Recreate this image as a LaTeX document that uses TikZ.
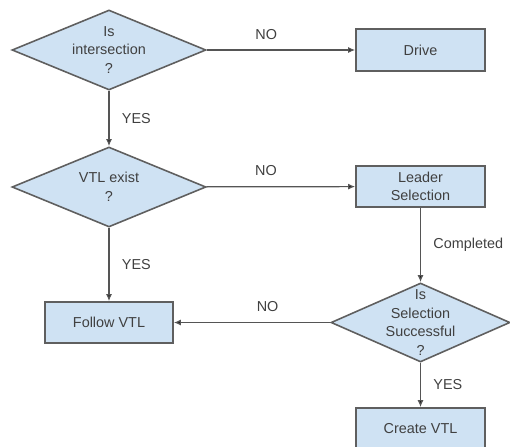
\documentclass[tikz,border=0pt]{standalone}
\usepackage{fontspec}
\setmainfont{Liberation Sans}
\usepackage{tikz}
\usetikzlibrary{positioning}
\usetikzlibrary{shapes,arrows.meta}
\definecolor{boxfill}{HTML}{CFE2F3}
\definecolor{boxline}{HTML}{5F5F5F}
\definecolor{flowline}{HTML}{555555}
\definecolor{txt}{HTML}{404040}
\tikzset{
	every node/.style = {font=\fontsize{8.2}{10.6}\selectfont, text=txt},
	process/.style = {rectangle, draw=boxline, fill=boxfill, line width=0.9pt,
	 minimum width=2.58cm, minimum height=0.83cm, align=center, inner sep=0pt},
	decision/.style = {diamond, draw=boxline, fill=boxfill, line width=0.9pt,
	 minimum width=3.88cm, minimum height=1.6cm, inner sep=0pt},
	flow/.style = {draw=flowline, line width=0.7pt},
	el/.style = {inner sep=2pt},
}

\begin{document}
\begin{tikzpicture}[->,>={Latex[length=4pt,width=3.4pt]}]
	\useasboundingbox (0,0) rectangle (10.2,-8.92);
               \node at(2.18,-1.0) (Intersection) [decision, label={[align=center]center:{Is\\intersection\\?}}] {};
               \node at(8.41,-1.0) (Drive) [process] {Drive};
               \node at(2.18,-3.74) (VTLExist) [decision, label={[align=center]center:{VTL exist\\?}}] {};
               \node at(8.41,-3.73) (Leader) [process] {Leader\\Selection};
               \node at(2.18,-6.45) (FollowVTL) [process, minimum width=2.56cm, minimum height=0.82cm] {Follow VTL};
               \node at(8.41,-6.45) (Success) [decision, minimum width=3.58cm, minimum height=1.58cm, label={[align=center]center:{Is\\Selection\\Successful\\?}}] {};
               \node at(8.41,-8.57) (CreateVTL) [process, minimum height=0.82cm] {Create VTL};
                \path[flow] (Intersection) edge node[el, above=3.7pt, pos=0.4] {NO} (Drive);
                \path[flow] (Intersection) edge node[el, right=5pt] {YES} (VTLExist);
                \path[flow] (VTLExist) edge node[el, above=3.7pt, pos=0.4] {NO} (Leader);
                \path[flow] (VTLExist) edge node[el, right=5pt] {YES} (FollowVTL);
                \path[flow] (Leader) edge node[el, right=5pt] {Completed} (Success);
                \path[flow] (Success) edge node[el, above=3.7pt, pos=0.4] {NO} (FollowVTL);
                \path[flow] (Success) edge node[el, right=5pt] {YES} (CreateVTL);
        \end{tikzpicture}
\end{document}
